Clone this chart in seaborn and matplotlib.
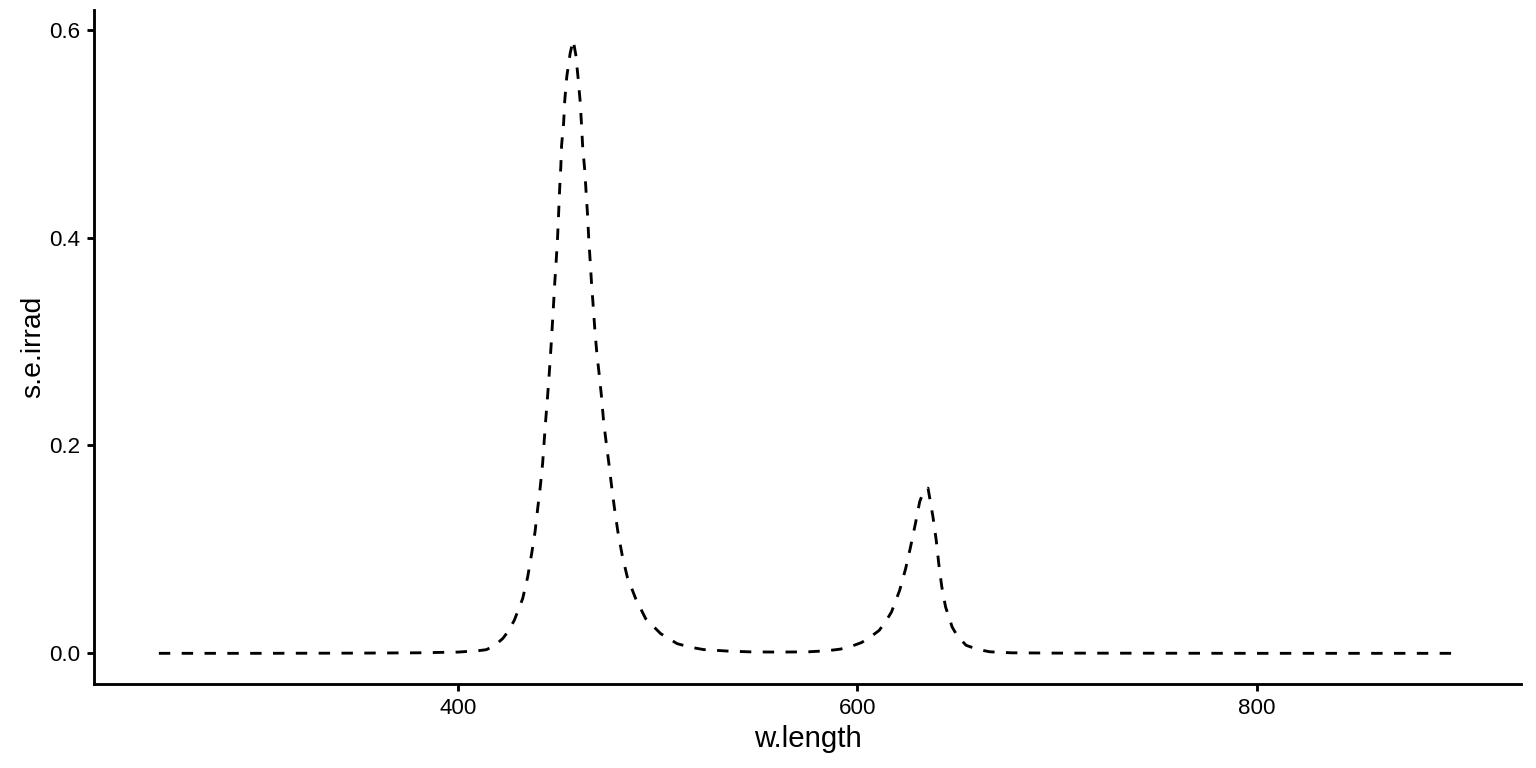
import pandas as pd
import matplotlib
matplotlib.use("Agg")
import matplotlib.pyplot as plt
import seaborn as sns

# Spectrum (wavelength in nm, spectral irradiance)
w_length = [250, 300, 350, 380, 400, 410, 414, 418, 422.3, 425, 428.1, 432.3,
            434.8, 436.8, 438.5, 439.8, 441.1, 442.3, 443.1, 443.9, 444.8,
            445.6, 446.4, 447.1, 447.8, 448.4, 449.1, 449.8, 450.3, 450.8,
            451.4, 451.8, 452.8, 453.4, 454.4, 456.1, 457.6, 458.9, 460.1,
            461.1, 461.8, 462.4, 463.4, 464.1, 464.8, 465.4, 466.1, 466.8,
            467.6, 468.4, 469.4, 470.6, 471.8, 472.8, 474.1, 475.6, 476.9,
            478.4, 480.0, 482.2, 484.7, 488.9, 493.9, 501.4, 509.7, 516, 523,
            534.7, 546.3, 560, 575, 585, 591.3, 596, 602.1, 606, 610.9, 614,
            617.1, 621.2, 624.2, 626.6, 629.1, 631.2, 633, 635.4, 637.9, 639.5,
            640.8, 642.3, 644.2, 647.5, 650, 654.5, 660, 666.2, 677, 700, 750,
            800, 900]
s_e_irrad = [0.0, 0.0, 0.0002, 0.0005, 0.0012, 0.0025, 0.0035, 0.007, 0.0142,
             0.021, 0.0318, 0.0527, 0.0735, 0.096, 0.117, 0.139, 0.160, 0.183,
             0.205, 0.226, 0.248, 0.269, 0.292, 0.314, 0.337, 0.3575, 0.378,
             0.401, 0.423, 0.446, 0.468, 0.489, 0.510, 0.5325, 0.555, 0.5775,
             0.590, 0.576, 0.553, 0.531, 0.508, 0.486, 0.465, 0.443, 0.422,
             0.399, 0.378, 0.356, 0.335, 0.313, 0.290, 0.269, 0.247, 0.224,
             0.2035, 0.181, 0.160, 0.138, 0.117, 0.094, 0.0735, 0.0527, 0.0334,
             0.019, 0.0093, 0.006, 0.0036, 0.0022, 0.0014, 0.0012, 0.0014,
             0.0025, 0.0040, 0.006, 0.0104, 0.015, 0.022, 0.030, 0.0398,
             0.0607, 0.0816, 0.102, 0.125, 0.1457, 0.155, 0.159, 0.131, 0.109,
             0.086, 0.064, 0.0446, 0.0253, 0.017, 0.0077, 0.004, 0.0015,
             0.0005, 0.0002, 0.0001, 0.0, 0.0]

x_ticks = [400, 600, 800]
y_ticks = [0.0, 0.2, 0.4, 0.6]
y_tick_labels = ["0.0", "0.2", "0.4", "0.6"]

data = pd.DataFrame({"w.length": w_length, "s.e.irrad": s_e_irrad})

sns.set_theme(style="ticks")
plt.rcParams['font.family'] = ['Liberation Sans', 'DejaVu Sans']

fig = plt.figure(figsize=(8, 4), dpi=192)
ax = fig.add_axes([0.0612, 0.1094, 0.9290, 0.8782])

sns.lineplot(data=data, x="w.length", y="s.e.irrad", ax=ax, color="black",
             linewidth=1.07, estimator=None, sort=False)
ax.lines[0].set_linestyle((0, (4, 4)))

ax.margins(x=0.05, y=0.05)
ax.set_xticks(x_ticks)
ax.set_yticks(y_ticks)
ax.set_yticklabels(y_tick_labels)
ax.tick_params(axis="both", labelsize=8.4, colors="black", length=2.75,
               width=1.07, pad=2.4)
ax.set_xlabel("w.length", fontsize=11, color="black", labelpad=2.5)
ax.set_ylabel("s.e.irrad", fontsize=10.6, color="black", labelpad=1.2)
for side in ["left", "bottom"]:
    ax.spines[side].set_linewidth(1.07)
    ax.spines[side].set_color("black")
sns.despine(ax=ax)

fig.savefig("out.png", dpi=192)
